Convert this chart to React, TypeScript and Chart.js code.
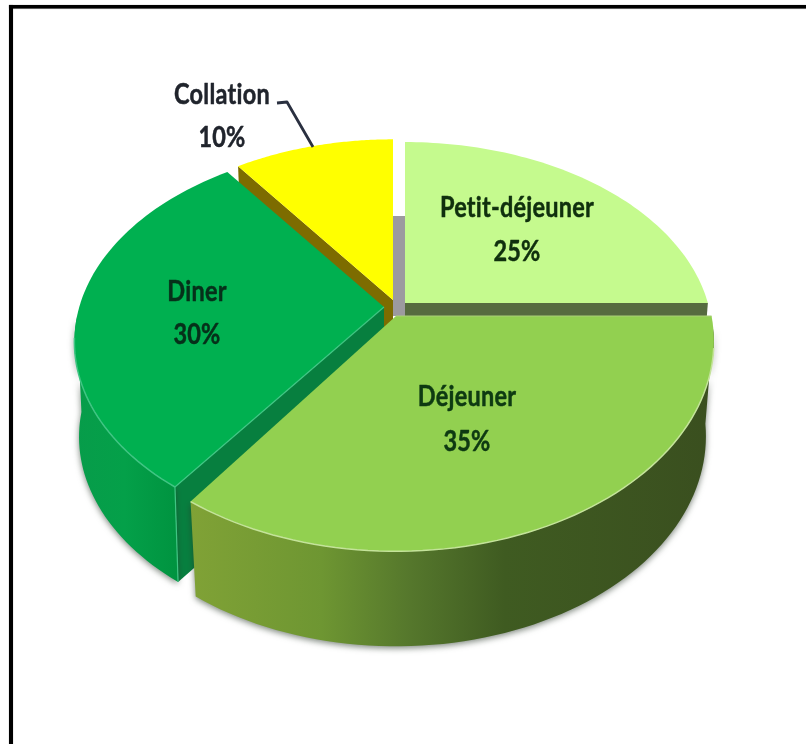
import { useEffect, useRef } from "react";
import { Chart, registerables } from "chart.js";

Chart.register(...registerables);

// Meal shares, clockwise from twelve o'clock.
const meals = ["Petit-déjeuner", "Déjeuner", "Diner", "Collation"];
const shares = [25, 35, 30, 10];
const topColors = ["#C5FA8E", "#92D050", "#00B050", "#FFFF00"];

type SliceLook = {
  dx: number; dy: number; kx: number; ky: number; p: number; shrink: number;
  face?: "start" | "end"; faceColor?: string;
  side?: [number, string][]; rim?: string; edge?: string;
  label: [number, number]; pct: [number, number]; ink: string;
};

// Per-slice perspective, explosion offset and finish.
const looks: SliceLook[] = [
  { dx: 7, dy: -7, kx: 0.977, ky: 0.611, p: 0.177, shrink: 0.975, face: "end", faceColor: "#566B3F",
    label: [517, 208], pct: [517, 252], ink: "#10300E" },
  { dx: -2, dy: 6, kx: 1.018, ky: 0.668, p: 0.12, shrink: 0.975,
    side: [[0, "#80A236"], [0.25, "#6E9632"], [0.42, "#55772C"], [0.6, "#3F5B21"], [1, "#3A4F1F"]],
    rim: "#C4E39A", edge: "#A9CF78",
    label: [467, 397], pct: [467, 442], ink: "#0E3A12" },
  { dx: -14, dy: -3, kx: 0.983, ky: 0.615, p: 0.177, shrink: 0.985, face: "start", faceColor: "#077F3F",
    side: [[0, "#079C4A"], [0.5, "#04A049"], [1, "#009440"]],
    rim: "#3FC583", edge: "#3FC583",
    label: [197, 292], pct: [197, 335], ink: "#06301A" },
  { dx: -5, dy: -10, kx: 0.972, ky: 0.61, p: 0.177, shrink: 0.975, face: "start", faceColor: "#7D6C00",
    label: [222, 95], pct: [222, 138], ink: "#20242C" },
];

const DEPTH = 95;
const PAINT_ORDER = [3, 0, 2, 1];
const FONT = 'bold 29px Lato, "Open Sans", sans-serif';
const TEXT_SQUEEZE = 0.81;

const tiltedPie = {
  id: "tiltedPie",
  beforeDraw(chart: any) {
    const { ctx } = chart;
    ctx.save();
    // Frame: a rule along the top and one down the left side.
    ctx.fillStyle = "#000";
    ctx.shadowColor = "rgba(0,0,0,.6)";
    ctx.shadowBlur = 1;
    ctx.fillRect(9, 5, 797, 3.5);
    ctx.fillRect(9, 5, 4, 739);
    ctx.restore();
  },
  beforeDatasetDraw(chart: any) {
    const { ctx } = chart;
    const arcs = chart.getDatasetMeta(0).data;

    const project = (i: number, a: number, r = 1): [number, number] => {
      const s = looks[i];
      const R = arcs[i].outerRadius;
      const u = r * Math.cos(a);
      const v = r * Math.sin(a);
      const d = 1 - s.p * v;
      return [arcs[i].x + s.dx + (s.kx * R * u) / d, arcs[i].y + s.dy + (s.ky * R * v) / d];
    };
    const apex = (i: number) => project(i, 0, 0);
    const base = (i: number, pt: [number, number]): [number, number] => {
      const c = apex(i);
      return [c[0] + (pt[0] - c[0]) * looks[i].shrink, pt[1] + DEPTH];
    };
    const rimPoints = (i: number, from: number, to: number) => {
      const pts: [number, number][] = [];
      for (let k = 0; k <= 72; k++) pts.push(project(i, from + ((to - from) * k) / 72));
      return pts;
    };
    const trace = (pts: [number, number][]) => {
      ctx.beginPath();
      pts.forEach((p, k) => (k ? ctx.lineTo(p[0], p[1]) : ctx.moveTo(p[0], p[1])));
    };

    // Wall seen through the gap between the first and the last slice.
    const top = project(0, arcs[0].startAngle, 0.5);
    ctx.fillStyle = "#9C9A9F";
    ctx.fillRect(apex(3)[0], top[1], apex(0)[0] - apex(3)[0], apex(1)[1] - top[1]);

    for (const i of PAINT_ORDER) {
      const s = looks[i];
      const { startAngle, endAngle } = arcs[i];
      const rim = rimPoints(i, startAngle, endAngle);

      if (s.face) {
        const a = s.face === "start" ? startAngle : endAngle;
        const c = apex(i);
        const e = project(i, a);
        trace([c, e, base(i, e), [c[0], c[1] + DEPTH]]);
        ctx.closePath();
        ctx.fillStyle = s.faceColor;
        ctx.fill();
      }

      if (s.side) {
        // Only the part of the rim that faces the viewer gets a wall.
        const near = rim.filter((p) => p[1] >= apex(i)[1] + 8);
        const xs = near.map((p) => p[0]);
        const g = ctx.createLinearGradient(Math.min(...xs), 0, Math.max(...xs), 0);
        s.side.forEach(([o, col]) => g.addColorStop(o, col));
        ctx.fillStyle = g;
        ctx.save();
        ctx.shadowColor = "rgba(40,55,40,.6)";
        ctx.shadowBlur = 6;
        ctx.shadowOffsetY = 2;
        trace([...near, ...near.map((p) => base(i, p)).reverse()]);
        ctx.closePath();
        ctx.fill();
        ctx.restore();
      }

      // Top surface of the slice.
      trace([apex(i), ...rim]);
      ctx.closePath();
      ctx.fillStyle = topColors[i];
      ctx.fill();

      if (s.rim) {
        ctx.strokeStyle = s.rim;
        ctx.lineWidth = 1.5;
        trace(rim.filter((p) => p[1] > apex(i)[1] + 30));
        ctx.stroke();
      }
      if (s.edge) {
        const e = project(i, i === 1 ? endAngle : startAngle);
        const light = i === 1 ? project(i, startAngle) : e;
        ctx.strokeStyle = s.edge;
        ctx.lineWidth = 1.2;
        trace([apex(i), light]);
        ctx.stroke();
        if (i === 2) {
          trace([e, base(i, e)]);
          ctx.stroke();
        }
      }
    }
    return false;
  },
  afterDatasetsDraw(chart: any) {
    const { ctx } = chart;
    ctx.save();
    // Leader from the outside label to its slice.
    ctx.strokeStyle = "#2A3040";
    ctx.lineWidth = 2.8;
    ctx.lineJoin = "round";
    ctx.beginPath();
    ctx.moveTo(277, 103);
    ctx.lineTo(287, 102);
    ctx.lineTo(313, 147);
    ctx.stroke();

    ctx.font = FONT;
    ctx.textAlign = "center";
    ctx.textBaseline = "middle";
    // A little tracking keeps "ti" as two separate letters.
    ctx.letterSpacing = "0.3px";
    ctx.lineWidth = 0.5;
    const put = (text: string, [x, y]: [number, number]) => {
      ctx.save();
      ctx.translate(x, y);
      ctx.scale(TEXT_SQUEEZE, 1);
      ctx.fillText(text, 0, 0);
      ctx.strokeText(text, 0, 0);
      ctx.restore();
    };
    chart.data.labels.forEach((name: string, i: number) => {
      const s = looks[i];
      ctx.fillStyle = s.ink;
      ctx.strokeStyle = s.ink;
      put(name, s.label);
      put(`${chart.data.datasets[0].data[i]}%`, s.pct);
    });
    ctx.restore();
  },
};

export default function App() {
  const ref = useRef<HTMLCanvasElement>(null);
  useEffect(() => {
    document.body.style.margin = "0";
    document.body.style.background = "#fff";
    const chart = new Chart(ref.current!, {
      type: "pie",
      data: {
        labels: meals,
        datasets: [{ data: shares, backgroundColor: topColors, borderWidth: 0 }],
      },
      options: {
        animation: false,
        responsive: false,
        layout: { padding: { right: 10, bottom: 124 } },
        plugins: { legend: { display: false }, tooltip: { enabled: false } },
      },
      plugins: [tiltedPie],
    } as any);
    return () => chart.destroy();
  }, []);
  return <canvas ref={ref} width={806} height={744} style={{ display: "block" }} />;
}
